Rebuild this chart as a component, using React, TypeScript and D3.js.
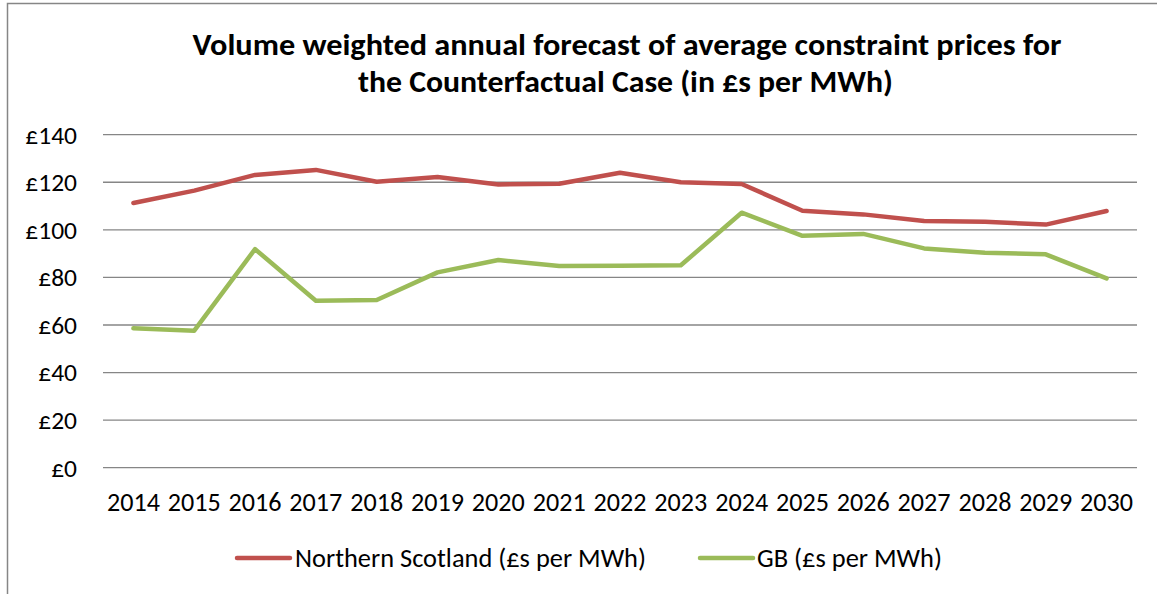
import React from "react";
import * as d3 from "d3";

const years = ["2014","2015","2016","2017","2018","2019","2020","2021","2022","2023","2024","2025","2026","2027","2028","2029","2030"];
const northernScotland = [111.3,116.5,123.1,125.2,120.2,122.2,119.1,119.4,124.0,120.0,119.3,108.0,106.5,103.7,103.4,102.2,107.9];
const gb = [58.6,57.6,91.9,70.2,70.5,82.1,87.3,84.8,84.9,85.1,107.2,97.5,98.3,92.2,90.4,89.7,79.6];
const yTicks = [0,20,40,60,80,100,120,140];
const titleLines = ["Volume  weighted annual forecast of average constraint prices for","the Counterfactual Case (in £s per MWh)"];
const seriesNames = ["Northern Scotland (£s per MWh)","GB (£s per MWh)"];
const colors = ["#C0504D","#9BBB59"];

const W = 1157, H = 594;
const FONT = "Carlito, Calibri, 'Open Sans', sans-serif";

export default function App() {
  const x = d3.scaleBand<string>().domain(years).range([103, 1137]).padding(0);
  const y = d3.scaleLinear().domain([0, 140]).range([467.7, 134.7]);
  const cx = (yr: string) => (x(yr) as number) + x.bandwidth() / 2;
  const line = d3.line<number>().x((_, i) => cx(years[i])).y(v => y(v));
  const series = [northernScotland, gb];

  return (
    <svg width={W} height={H} style={{ position: "absolute", left: 0, top: 0, background: "#fff" }}>
      <rect x={0} y={0} width={W} height={H} fill="#fff" />
      {/* frame */}
      <path d={`M7.5,${H} L7.5,3.5 L${W},3.5`} fill="none" stroke="#868686" strokeWidth={1.5} />
      {/* title */}
      <text x={627} y={55} textAnchor="middle" fontFamily={FONT} fontWeight="bold" fontSize={31}
        textLength={869} lengthAdjust="spacingAndGlyphs" fill="#000">{titleLines[0]}</text>
      <text x={625.5} y={91.5} textAnchor="middle" fontFamily={FONT} fontWeight="bold" fontSize={31}
        textLength={535} lengthAdjust="spacingAndGlyphs" fill="#000">{titleLines[1]}</text>
      {/* gridlines */}
      {yTicks.map(t => (
        <line key={t} x1={103} x2={1137} y1={y(t)} y2={y(t)} stroke="#868686" strokeWidth={1.3} />
      ))}
      {/* y labels */}
      {yTicks.map(t => (
        <text key={"l" + t} x={77} y={y(t)} dy="0.35em" textAnchor="end" fontFamily={FONT}
          fontSize={25.5} fill="#000">{"£" + t}</text>
      ))}
      {/* x labels */}
      {years.map(yr => (
        <text key={yr} x={cx(yr)} y={511} textAnchor="middle" fontFamily={FONT} fontSize={26}
          textLength={53} lengthAdjust="spacingAndGlyphs" fill="#000">{yr}</text>
      ))}
      {/* lines */}
      {series.map((s, i) => (
        <path key={i} d={line(s) || ""} fill="none" stroke={colors[i]} strokeWidth={4.5}
          strokeLinejoin="round" strokeLinecap="round" />
      ))}
      {/* legend */}
      <line x1={237} x2={290} y1={558} y2={558} stroke={colors[0]} strokeWidth={4.5} strokeLinecap="round" />
      <text x={295} y={558} dy="0.35em" fontFamily={FONT} fontSize={26} textLength={351}
        lengthAdjust="spacingAndGlyphs" fill="#000">{seriesNames[0]}</text>
      <line x1={700} x2={753} y1={558} y2={558} stroke={colors[1]} strokeWidth={4.5} strokeLinecap="round" />
      <text x={757} y={558} dy="0.35em" fontFamily={FONT} fontSize={26} textLength={185}
        lengthAdjust="spacingAndGlyphs" fill="#000">{seriesNames[1]}</text>
    </svg>
  );
}
